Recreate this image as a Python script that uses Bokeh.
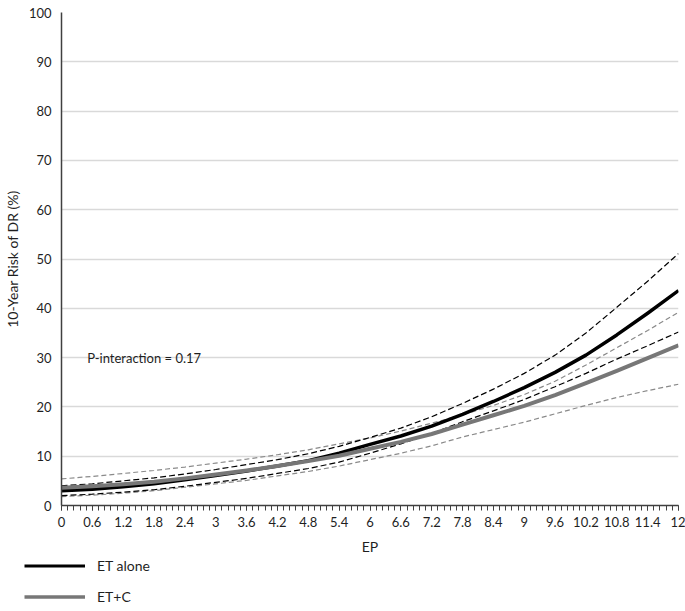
from bokeh.plotting import figure
from bokeh.layouts import column
from bokeh.models import Range1d, FixedTicker, Label, Legend, LegendItem
from bokeh.embed import file_html
from bokeh.resources import INLINE

# ---- data ----
ep = [0.0, 0.6, 1.2, 1.8, 2.4, 3.0, 3.6, 4.2, 4.8, 5.4, 6.0,
      6.6, 7.2, 7.8, 8.4, 9.0, 9.6, 10.2, 10.8, 11.4, 12.0]
et_alone = [3.0, 3.3, 3.8, 4.4, 5.2, 6.1, 7.0, 8.0, 9.1, 10.6, 12.4,
            14.1, 16.1, 18.5, 21.1, 23.9, 27.0, 30.5, 34.6, 39.0, 43.6]
et_alone_hi = [4.0, 4.4, 5.0, 5.6, 6.4, 7.3, 8.3, 9.3, 10.5, 12.0, 13.8,
               15.7, 18.0, 20.7, 23.6, 26.8, 30.5, 35.0, 40.2, 45.5, 51.1]
et_alone_lo = [2.0, 2.3, 2.7, 3.2, 3.9, 4.7, 5.5, 6.5, 7.5, 8.8, 10.6,
               12.5, 14.6, 17.0, 19.2, 21.5, 24.1, 26.8, 29.7, 32.4, 35.2]
et_c = [3.6, 3.9, 4.3, 4.8, 5.5, 6.3, 7.1, 8.0, 9.0, 10.1, 11.5,
        12.9, 14.5, 16.4, 18.3, 20.2, 22.4, 24.8, 27.3, 29.9, 32.5]
et_c_hi = [5.4, 5.9, 6.5, 7.1, 7.8, 8.6, 9.4, 10.3, 11.3, 12.5, 13.7,
           15.1, 16.7, 18.4, 20.3, 22.5, 25.2, 28.5, 32.0, 35.5, 39.2]
et_c_lo = [1.8, 2.1, 2.5, 3.0, 3.7, 4.4, 5.1, 6.0, 6.9, 8.0, 9.3,
           10.6, 12.1, 13.9, 15.4, 16.9, 18.6, 20.3, 21.9, 23.3, 24.6]

x_ticks = [0.0, 0.6, 1.2, 1.8, 2.4, 3.0, 3.6, 4.2, 4.8, 5.4, 6.0,
           6.6, 7.2, 7.8, 8.4, 9.0, 9.6, 10.2, 10.8, 11.4, 12.0]
x_tick_labels = ["0", "0.6", "1.2", "1.8", "2.4", "3", "3.6", "4.2", "4.8", "5.4", "6",
                 "6.6", "7.2", "7.8", "8.4", "9", "9.6", "10.2", "10.8", "11.4", "12"]
x_minor = [round(i * 0.12, 2) for i in range(101)]
y_ticks = [0, 10, 20, 30, 40, 50, 60, 70, 80, 90, 100]
series_labels = ["ET alone", "ET+C"]

FONT = "Lato"
TXT = "#1f1f1f"
C_ALONE = "#000000"
C_C = "#777777"

p = figure(width=685, height=557, output_backend="svg", toolbar_location=None,
           x_range=Range1d(0, 12), y_range=Range1d(0, 100),
           min_border_left=61, min_border_right=7, min_border_top=12, min_border_bottom=52)
p.outline_line_color = None
p.frame_align = False

# grid
p.xgrid.visible = False
p.ygrid.ticker = FixedTicker(ticks=y_ticks)
p.ygrid.grid_line_color = "#d9d9d9"
p.ygrid.grid_line_width = 1.5

# axes
p.xaxis.ticker = FixedTicker(ticks=x_ticks, minor_ticks=x_minor)
p.xaxis.major_label_overrides = {t: l for t, l in zip(x_ticks, x_tick_labels)}
p.xaxis.major_tick_in = 0
p.xaxis.major_tick_out = 5
p.xaxis.minor_tick_in = 0
p.xaxis.minor_tick_out = 5
p.xaxis.axis_line_color = "#404040"
p.xaxis.major_tick_line_color = "#404040"
p.xaxis.minor_tick_line_color = "#404040"
p.xaxis.axis_line_width = 1.5
p.xaxis.major_label_standoff = 6
p.xaxis.axis_label = "EP"
p.xaxis.axis_label_standoff = 8
p.xaxis.axis_label_text_font_style = "normal"

p.yaxis.ticker = FixedTicker(ticks=y_ticks)
p.yaxis.major_tick_out = 0
p.yaxis.major_tick_in = 0
p.yaxis.minor_tick_line_color = None
p.yaxis.axis_line_color = "#404040"
p.yaxis.axis_line_width = 1.5
p.yaxis.major_label_standoff = 10
p.yaxis.axis_label = "10-Year Risk of DR (%)"
p.yaxis.axis_label_standoff = 5
p.yaxis.axis_label_text_font_style = "normal"

for ax in (p.xaxis[0], p.yaxis[0]):
    ax.major_label_text_font = FONT
    ax.major_label_text_font_size = "13px"
    ax.major_label_text_color = TXT
    ax.axis_label_text_font = FONT
    ax.axis_label_text_font_size = "14px"
    ax.axis_label_text_color = TXT

# confidence bands (dashed)
p.line(ep, et_c_hi, line_color="#8a8a8a", line_width=1.2, line_dash="5 3")
p.line(ep, et_c_lo, line_color="#8a8a8a", line_width=1.2, line_dash="5 3")
p.line(ep, et_alone_hi, line_color=C_ALONE, line_width=1.2, line_dash="6 3")
p.line(ep, et_alone_lo, line_color=C_ALONE, line_width=1.2, line_dash="6 3")

# main curves
p.line(ep, et_alone, line_color=C_ALONE, line_width=3.5, line_join="round")
p.line(ep, et_c, line_color=C_C, line_width=4, line_join="round")

p.add_layout(Label(x=0.5, y=30, text="P-interaction = 0.17", text_font=FONT,
                   text_font_size="13px", text_color=TXT, text_baseline="middle"))

# legend strip below the chart (proxy renderers: one point each, draws nothing)
q = figure(width=685, height=53, output_backend="svg", toolbar_location=None,
           x_range=Range1d(0, 12), y_range=Range1d(0, 100),
           x_axis_location=None, y_axis_location=None,
           min_border_left=0, min_border_right=0, min_border_top=0, min_border_bottom=0)
q.grid.visible = False
q.outline_line_color = None
q.frame_align = False
k1 = q.line(ep[:1], et_alone[:1], line_color=C_ALONE, line_width=3)
k2 = q.line(ep[:1], et_c[:1], line_color=C_C, line_width=3.5)
legend = Legend(items=[LegendItem(label=series_labels[0], renderers=[k1]),
                       LegendItem(label=series_labels[1], renderers=[k2])],
                location=(24, 5), orientation="vertical",
                padding=0, margin=0, spacing=14,
                glyph_width=61, glyph_height=17, label_standoff=12,
                label_text_font=FONT, label_text_font_size="14px", label_text_color=TXT,
                border_line_color=None, background_fill_alpha=0)
q.add_layout(legend)

open("out.html", "w").write(file_html(column(p, q, spacing=0), INLINE))
